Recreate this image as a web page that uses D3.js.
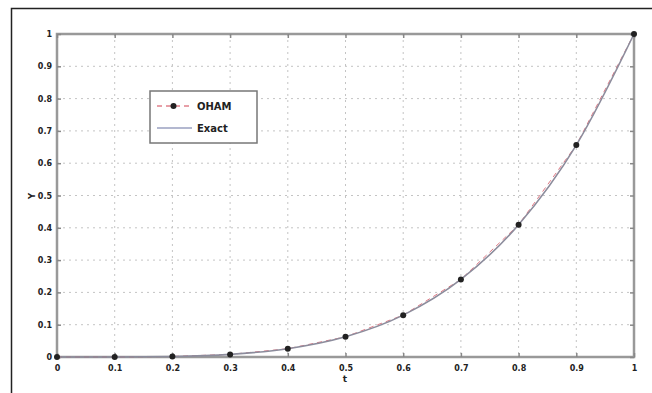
<!DOCTYPE html>
<html><head><meta charset="utf-8">
<script src="https://cdn.jsdelivr.net/npm/d3@7"></script>
<style>body{margin:0;background:#fff}svg{display:block}</style>
</head><body>
<script>
const tValues = [0,0.1,0.2,0.3,0.4,0.5,0.6,0.7,0.8,0.9,1];
const approxValues = [0,0.0001,0.0016,0.0081,0.0256,0.0625,0.1296,0.2401,0.4096,0.6561,1];
const exactValues = [0,0.0001,0.0016,0.0081,0.0256,0.0625,0.1296,0.2401,0.4096,0.6561,1];
const xTicks = [0,0.1,0.2,0.3,0.4,0.5,0.6,0.7,0.8,0.9,1];
const yTicks = [0,0.1,0.2,0.3,0.4,0.5,0.6,0.7,0.8,0.9,1];
const legendNames = ["OHAM","Exact"];

const W=652,H=393;
const svg=d3.select("body").append("svg").attr("width",W).attr("height",H);
svg.append("path").attr("d","M11.5,"+H+"V8.5H"+W).attr("fill","none").attr("stroke","#222").attr("stroke-width",1.5);

const L=57,R=634,T=34,B=357;
const x=d3.scaleLinear().domain([0,1]).range([L,R]);
const y=d3.scaleLinear().domain([0,1]).range([B,T]);

const g=svg.append("g");
g.selectAll(".gx").data(xTicks.slice(1,-1)).join("line")
 .attr("x1",d=>x(d)).attr("x2",d=>x(d)).attr("y1",T).attr("y2",B)
 .attr("stroke","#c4c4c4").attr("stroke-width",1).attr("stroke-dasharray","2,4");
g.selectAll(".gy").data(yTicks.slice(1,-1)).join("line")
 .attr("y1",d=>y(d)).attr("y2",d=>y(d)).attr("x1",L).attr("x2",R)
 .attr("stroke","#c4c4c4").attr("stroke-width",1).attr("stroke-dasharray","2,4");

svg.append("rect").attr("x",L).attr("y",T).attr("width",R-L).attr("height",B-T)
 .attr("fill","none").attr("stroke","#999").attr("stroke-width",2.5);

const fmt=d=>d===0?"0":d===1?"1":d3.format(".1f")(d);
const xa=svg.append("g").attr("transform",`translate(0,${B})`)
 .call(d3.axisBottom(x).tickValues(xTicks).tickFormat(fmt).tickSize(-4).tickPadding(8));
const ya=svg.append("g").attr("transform",`translate(${L},0)`)
 .call(d3.axisLeft(y).tickValues(yTicks).tickFormat(fmt).tickSize(-4).tickPadding(5));
const xt=svg.append("g").attr("transform",`translate(0,${T})`)
 .call(d3.axisTop(x).tickValues(xTicks).tickFormat("").tickSize(-4));
const yr=svg.append("g").attr("transform",`translate(${R},0)`)
 .call(d3.axisRight(y).tickValues(yTicks).tickFormat("").tickSize(-4));
[xa,ya,xt,yr].forEach(a=>{a.select(".domain").remove();
 a.selectAll(".tick line").attr("stroke","#888").attr("stroke-width",1.5);
 a.selectAll("text").attr("font-family","DejaVu Sans").attr("font-weight","bold").attr("font-size",8).attr("fill","#222");});

// approx line (dashed red) underneath
const line2=d3.line().x(d=>x(d[0])).y(d=>y(d[1]));
svg.append("path").datum(tValues.map((t,i)=>[t,approxValues[i]])).attr("d",line2)
 .attr("fill","none").attr("stroke","#d04050").attr("stroke-width",1).attr("stroke-dasharray","5,4").attr("opacity",0.7);
// exact line on top
const line=d3.line().x(d=>x(d[0])).y(d=>y(d[1])).curve(d3.curveMonotoneX);
svg.append("path").datum(tValues.map((t,i)=>[t,exactValues[i]])).attr("d",line)
 .attr("fill","none").attr("stroke","#8c8c9c").attr("stroke-width",1.6);
svg.selectAll(".pt").data(tValues.map((t,i)=>[t,approxValues[i]])).join("circle")
 .attr("cx",d=>x(d[0])).attr("cy",d=>y(d[1])).attr("r",3).attr("fill","#222");

svg.append("text").attr("x",345).attr("y",382).attr("text-anchor","middle")
 .attr("font-family","DejaVu Sans").attr("font-weight","bold").attr("font-size",9).attr("fill","#222").text("t");
svg.append("text").attr("transform","translate(35,196) rotate(-90)").attr("text-anchor","middle")
 .attr("font-family","DejaVu Sans").attr("font-weight","bold").attr("font-size",9).attr("fill","#222").text("Y");

const lg=svg.append("g");
lg.append("rect").attr("x",150).attr("y",91).attr("width",107).attr("height",52)
 .attr("fill","#fff").attr("stroke","#777").attr("stroke-width",1.5);
lg.append("line").attr("x1",157).attr("x2",190).attr("y1",106).attr("y2",106)
 .attr("stroke","#d04050").attr("stroke-width",1).attr("stroke-dasharray","5,4");
lg.append("circle").attr("cx",173.5).attr("cy",106).attr("r",3).attr("fill","#222");
lg.append("line").attr("x1",157).attr("x2",192).attr("y1",128).attr("y2",128)
 .attr("stroke","#9aa0c0").attr("stroke-width",1.5);
lg.selectAll(".lt").data(legendNames).join("text")
 .attr("x",197).attr("y",(d,i)=>110+i*22)
 .attr("font-family","DejaVu Sans").attr("font-weight","bold").attr("font-size",10).attr("fill","#222").text(d=>d);
</script>
</body></html>
